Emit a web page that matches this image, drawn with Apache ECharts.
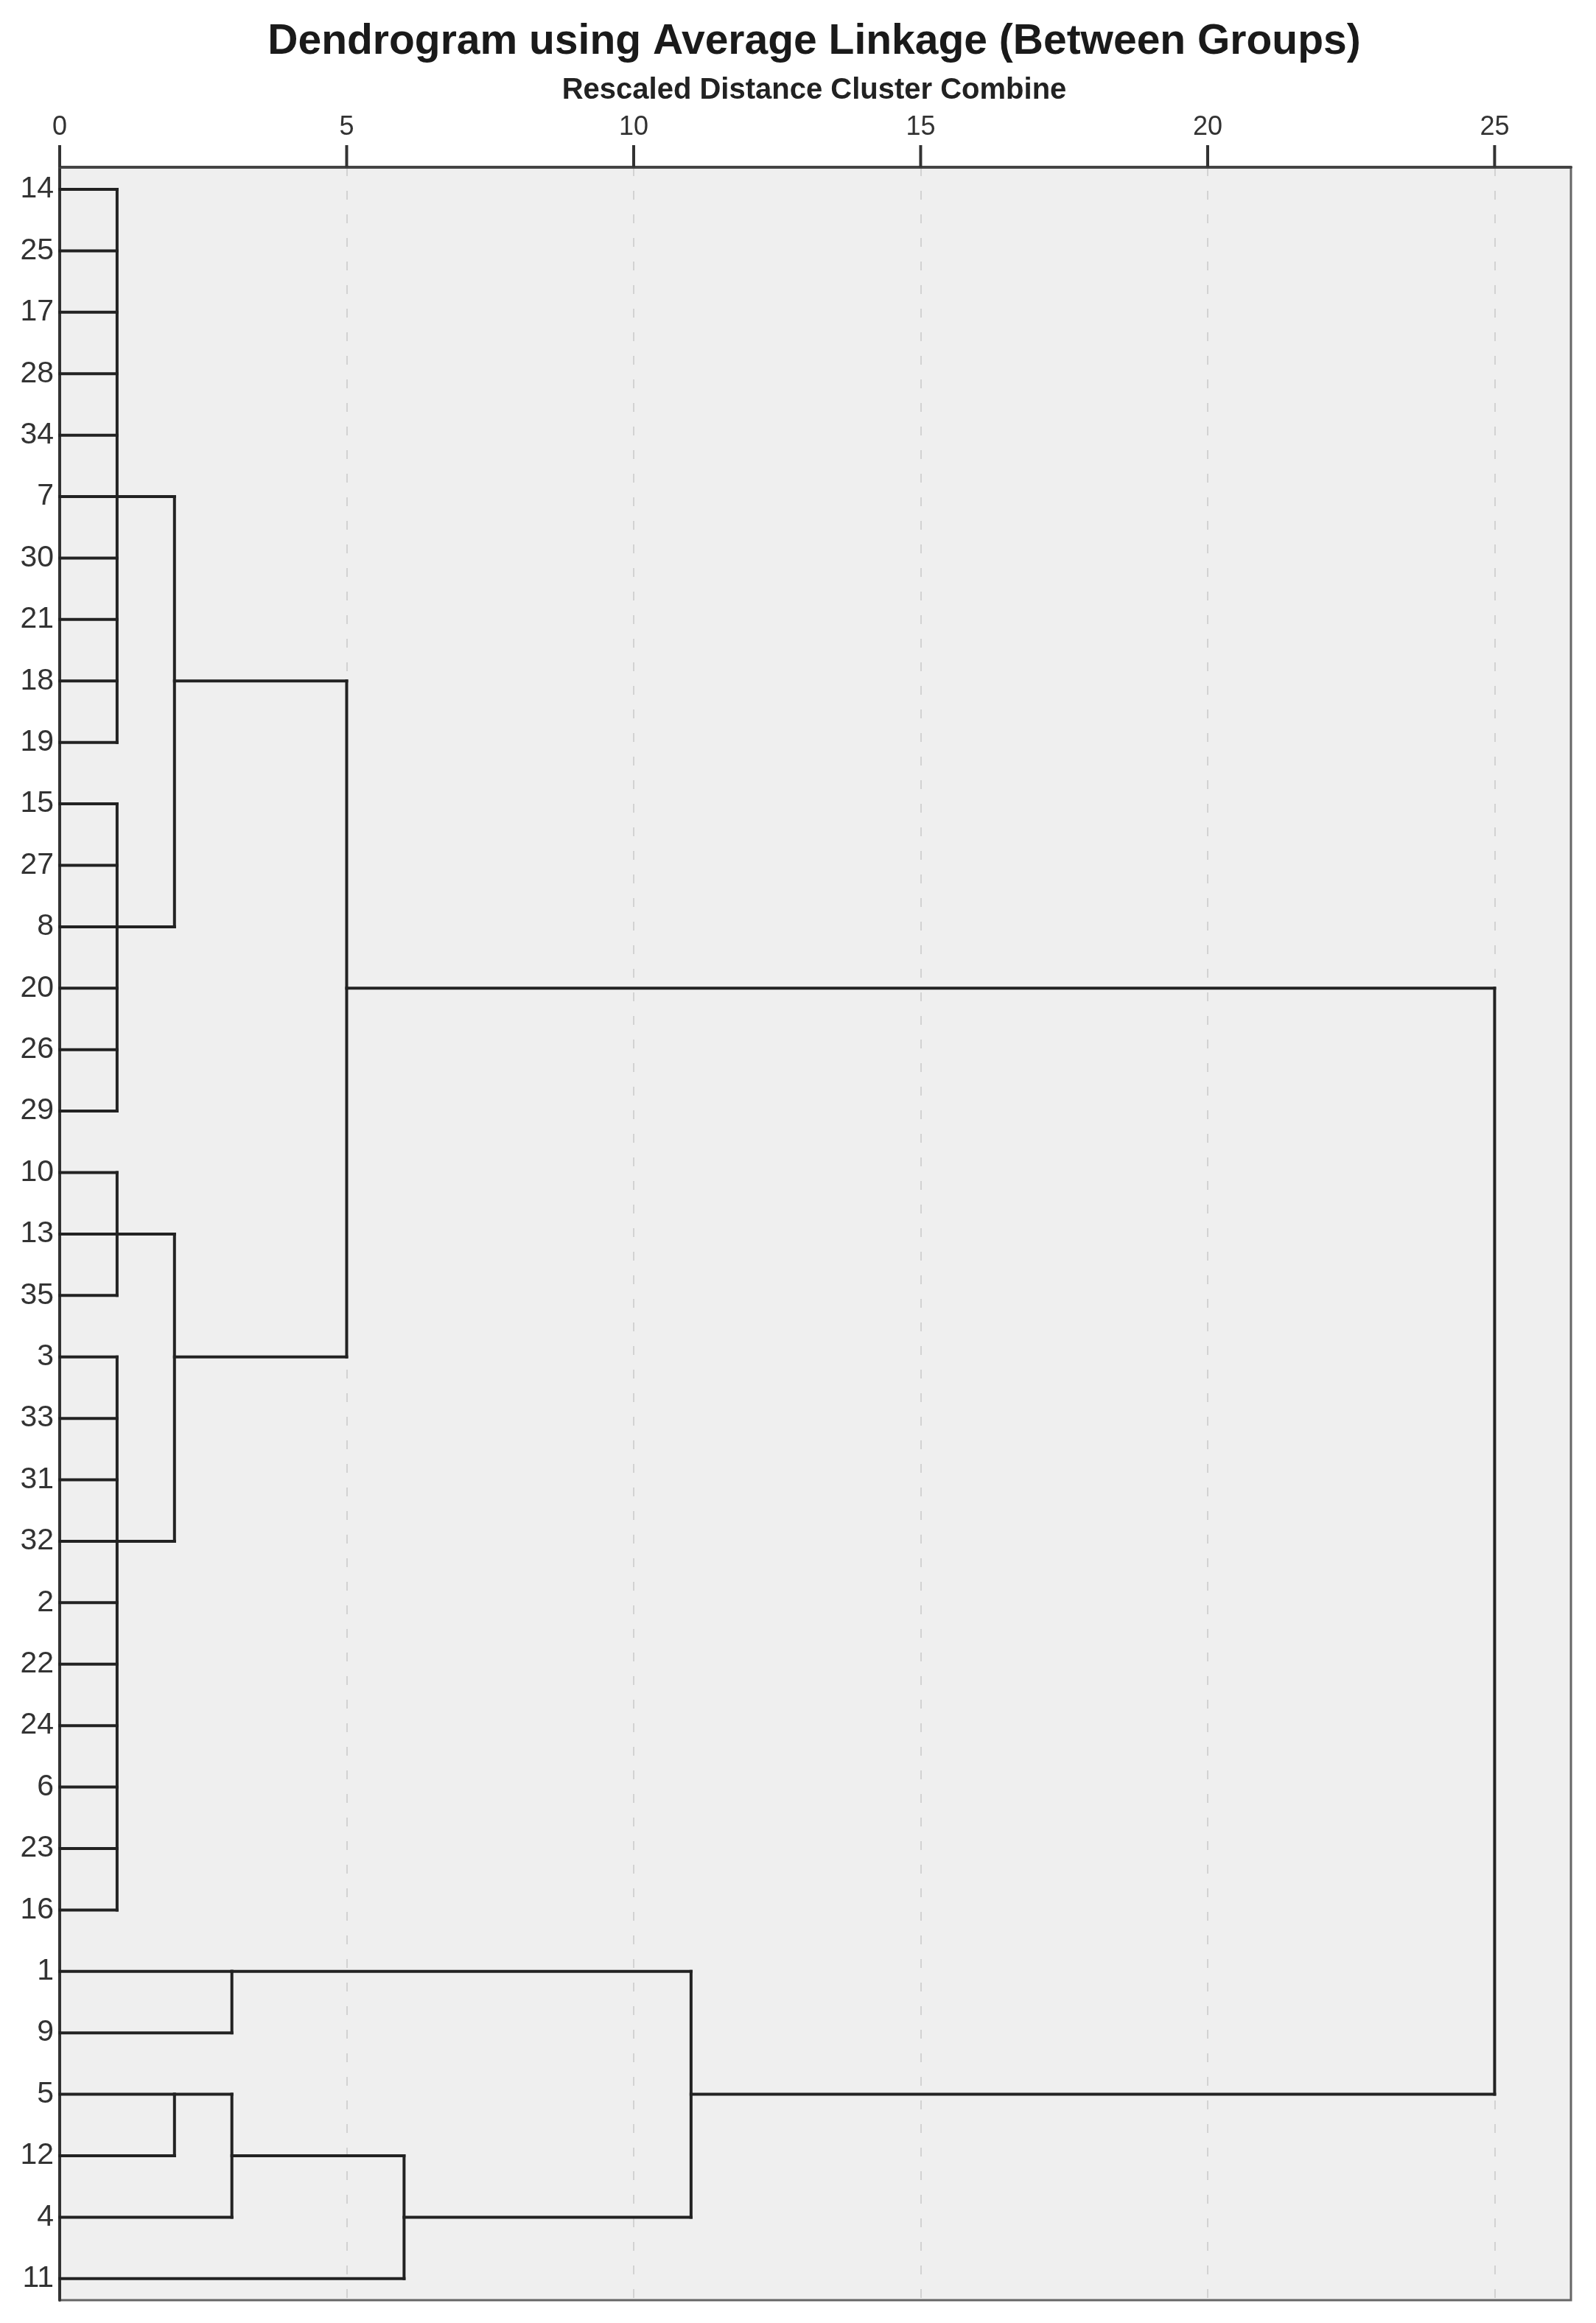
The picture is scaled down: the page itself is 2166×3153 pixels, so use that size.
<!DOCTYPE html>
<html>
<head>
<meta charset="utf-8">
<script src="https://cdn.jsdelivr.net/npm/echarts@6/dist/echarts.min.js"></script>
<style>
html,body{margin:0;padding:0;background:#ffffff;}
#chart{width:2166px;height:3153px;}
</style>
</head>
<body>
<div id="chart"></div>
<script>
// Leaf order, top to bottom
const leaves = ['14','25','17','28','34','7','30','21','18','19','15','27','8','20','26','29','10','13','35','3','33','31','32','2','22','24','6','23','16','1','9','5','12','4','11'];

// Clusters: name, rescaled distance where it merges, children, and the row its link is drawn at
// children: numbers = leaf index, strings = cluster name
const clusterNames    = ['A', 'B', 'AB', 'C', 'D', 'CD', 'ABCD', 'E', 'F', 'G', 'H', 'I', 'ROOT'];
const clusterHeights  = [1, 1, 2, 1, 1, 2, 5, 3, 2, 3, 6, 11, 25];
const clusterChildren = [
  [0,1,2,3,4,5,6,7,8,9],
  [10,11,12,13,14,15],
  ['A','B'],
  [16,17,18],
  [19,20,21,22,23,24,25,26,27,28],
  ['C','D'],
  ['AB','CD'],
  [29,30],
  [31,32],
  ['F',33],
  ['G',34],
  ['E','H'],
  ['ABCD','I']
];
const clusterRows = [5, 12, 8, 17, 22, 19, 13, 29, 31, 32, 33, 31, 22];

const xTicks = [0, 5, 10, 15, 20, 25];

// Build segments from structure
const nodeInfo = {};
clusterNames.forEach((n, i) => { nodeInfo[n] = {h: clusterHeights[i], row: clusterRows[i]}; });
function childInfo(c) {
  if (typeof c === 'number') return {h: 0, row: c};
  return nodeInfo[c];
}
const segments = [];
clusterNames.forEach((n, i) => {
  const h = clusterHeights[i];
  const rows = [];
  clusterChildren[i].forEach(c => {
    const ci = childInfo(c);
    segments.push([ci.h, ci.row, h, ci.row]);
    rows.push(ci.row);
  });
  segments.push([h, Math.min.apply(null, rows), h, Math.max.apply(null, rows)]);
});

const rowIdx = leaves.map((_, i) => i);
const Y_MIN = -0.36, Y_MAX = 34.35;
const FONT = 'Liberation Sans, Arial, sans-serif';
const chart = echarts.init(document.getElementById('chart'), null, {renderer: 'canvas'});
chart.setOption({
  animation: false,
  backgroundColor: '#ffffff',
  title: [
    {
      text: 'Dendrogram using Average Linkage (Between Groups)',
      left: 1100, top: 24, textAlign: 'center',
      textStyle: {fontFamily: FONT, fontWeight: 'bold', fontSize: 57, color: '#1a1a1a'}
    },
    {
      text: 'Rescaled Distance Cluster Combine',
      left: 1100, top: 98, textAlign: 'center',
      textStyle: {fontFamily: FONT, fontWeight: 'bold', fontSize: 40, color: '#222'}
    }
  ],
  grid: {
    left: 81, right: 34, top: 227, bottom: 31,
    show: true, backgroundColor: '#efefef', borderColor: '#666', borderWidth: 3
  },
  xAxis: {
    type: 'value', position: 'top', min: 0, max: 26.33,
    axisLine: {show: true, onZero: false, lineStyle: {color: '#444', width: 4}},
    axisTick: {show: true, inside: false, length: 29, customValues: xTicks, lineStyle: {color: '#333', width: 3}},
    axisLabel: {customValues: xTicks, fontSize: 36, color: '#333', margin: 36, fontFamily: FONT},
    splitLine: {show: true, lineStyle: {color: '#d2d2d2', width: 2, type: [12, 20]}}
  },
  yAxis: {
    type: 'value', inverse: true, min: Y_MIN, max: Y_MAX,
    axisLine: {show: true, onZero: false, lineStyle: {color: '#333', width: 4}},
    axisTick: {show: false},
    axisLabel: {customValues: rowIdx, formatter: v => leaves[Math.round(v)], fontSize: 41, color: '#333', margin: 8, fontFamily: FONT},
    splitLine: {show: false}
  },
  series: [
    {
      type: 'custom',
      coordinateSystem: 'cartesian2d',
      data: segments,
      encode: {x: [0, 2], y: [1, 3]},
      clip: false,
      renderItem: function (params, api) {
        const p1 = api.coord([api.value(0), api.value(1)]);
        const p2 = api.coord([api.value(2), api.value(3)]);
        return {
          type: 'line',
          shape: {x1: p1[0], y1: p1[1], x2: p2[0], y2: p2[1]},
          style: {stroke: '#222', lineWidth: 4, lineCap: 'square'}
        };
      }
    },
    {
      // tick marks above the top axis, one per tick value
      type: 'custom',
      coordinateSystem: 'cartesian2d',
      data: xTicks.map(t => [t, Y_MIN]),
      encode: {x: 0, y: 1},
      clip: false,
      silent: true,
      z: 10,
      renderItem: function (params, api) {
        const p = api.coord([api.value(0), api.value(1)]);
        return {
          type: 'rect',
          shape: {x: p[0] - 2, y: p[1] - 30, width: 4, height: 30},
          style: {fill: '#333'}
        };
      }
    }
  ]
});
</script>
</body>
</html>
